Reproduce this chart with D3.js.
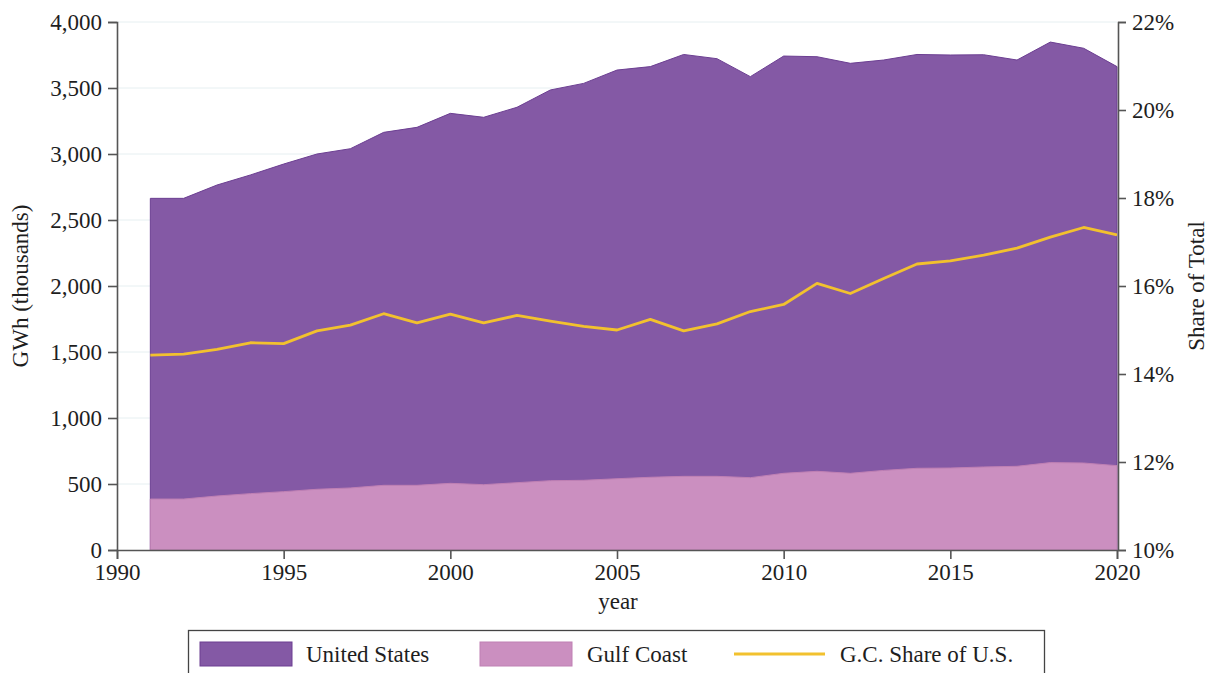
<!DOCTYPE html>
<html>
<head>
<meta charset="utf-8">
<script src="https://cdn.jsdelivr.net/npm/d3@7"></script>
<style>
  body { margin: 0; background: #fff; }
  svg text { font-family: "Liberation Serif", "Times New Roman", serif; fill: #1e1e1e; }
</style>
</head>
<body>
<div id="chart"></div>
<script>
// values
var years = d3.range(1991, 2021);
var usTotal = [2664, 2664, 2765, 2841, 2924, 3000, 3040, 3164, 3202, 3308,
               3278, 3354, 3485, 3535, 3636, 3662, 3754, 3722, 3586, 3742,
               3737, 3687, 3712, 3754, 3750, 3752, 3712, 3848, 3801, 3662];
var gulfCoast = [386, 386, 409, 427, 442, 460, 470, 490, 490, 505,
                 495, 510, 525, 528, 540, 551, 558, 558, 548, 581,
                 596, 581, 603, 619, 621, 629, 634, 662, 659, 639];
var gcShare = [14.43, 14.45, 14.56, 14.71, 14.69, 14.98, 15.11, 15.37, 15.16, 15.36,
               15.16, 15.33, 15.20, 15.08, 15.00, 15.24, 14.98, 15.14, 15.42, 15.58,
               16.06, 15.83, 16.17, 16.50, 16.57, 16.70, 16.86, 17.11, 17.33, 17.16];
var xTicks = [1990, 1995, 2000, 2005, 2010, 2015, 2020];
var leftTicks = [0, 500, 1000, 1500, 2000, 2500, 3000, 3500, 4000];
var rightTicks = [10, 12, 14, 16, 18, 20, 22];
var legendLabels = ["United States", "Gulf Coast", "G.C. Share of U.S."];

var W = 1211, H = 673;
var margin = { top: 22, right: 94, bottom: 123, left: 117 };
var width = W - margin.left - margin.right,
    height = H - margin.top - margin.bottom;

var colUS = "#8459a5", colGC = "#cb8fc0", colLine = "#f2c12e";

var svg = d3.select("#chart").append("svg")
    .attr("width", W)
    .attr("height", H);

var g = svg.append("g")
    .attr("transform", "translate(" + margin.left + "," + margin.top + ")");

// scales
var x = d3.scaleLinear().domain([1990, 2020]).range([0, width]);
var y = d3.scaleLinear().domain([0, 4000]).range([height, 0]);
var y2 = d3.scaleLinear().domain([10, 22]).range([height, 0]);

var rows = years.map(function(yr, i) {
  return { year: yr, us: usTotal[i], gc: gulfCoast[i], share: gcShare[i] };
});

// gridlines
g.selectAll(".grid").data(leftTicks.slice(1)).enter().append("line")
    .attr("x1", 0).attr("x2", width)
    .attr("y1", function(d) { return y(d); })
    .attr("y2", function(d) { return y(d); })
    .attr("stroke", "#e6eff1")
    .attr("stroke-width", 1);

// areas
var areaUS = d3.area()
    .x(function(d) { return x(d.year); })
    .y0(y(0))
    .y1(function(d) { return y(d.us); });
var areaGC = d3.area()
    .x(function(d) { return x(d.year); })
    .y0(y(0))
    .y1(function(d) { return y(d.gc); });

g.append("path").datum(rows)
    .attr("d", areaUS)
    .attr("fill", colUS)
    .attr("stroke", "#6c3f92")
    .attr("stroke-width", 1);

g.append("path").datum(rows)
    .attr("d", areaGC)
    .attr("fill", colGC)
    .attr("stroke", "#bf80b4")
    .attr("stroke-width", 1);

// share line on right axis
var shareLine = d3.line()
    .x(function(d) { return x(d.year); })
    .y(function(d) { return y2(d.share); });

g.append("path").datum(rows)
    .attr("d", shareLine)
    .attr("fill", "none")
    .attr("stroke", colLine)
    .attr("stroke-width", 2.8)
    .attr("stroke-linejoin", "round");

// axes
var fmt = d3.format(",");
var xAxis = g.append("g")
    .attr("transform", "translate(0," + height + ")")
    .call(d3.axisBottom(x).tickValues(xTicks).tickFormat(d3.format("d")).tickSize(9).tickPadding(5));
var yAxis = g.append("g")
    .call(d3.axisLeft(y).tickValues(leftTicks).tickFormat(fmt).tickSize(9).tickPadding(6));
var y2Axis = g.append("g")
    .attr("transform", "translate(" + (width + 1) + ",0)")
    .call(d3.axisRight(y2).tickValues(rightTicks).tickFormat(function(d) { return d + "%"; }).tickSize(8).tickPadding(6));

[xAxis, yAxis, y2Axis].forEach(function(ax) {
  ax.select(".domain").attr("stroke", "#555").attr("stroke-width", 1.6);
  ax.selectAll(".tick line").attr("stroke", "#555").attr("stroke-width", 1.6);
  ax.selectAll(".tick text")
    .style("font-family", "'Liberation Serif', 'Times New Roman', serif")
    .style("font-size", "23px")
    .attr("fill", "#1e1e1e");
});

// axis titles
svg.append("text")
    .attr("x", margin.left + width / 2 + 1)
    .attr("y", 609)
    .attr("text-anchor", "middle")
    .style("font-size", "23px")
    .text("year");

svg.append("text")
    .attr("transform", "translate(28," + (margin.top + 264) + ") rotate(-90)")
    .attr("text-anchor", "middle")
    .style("font-size", "23px")
    .text("GWh (thousands)");

svg.append("text")
    .attr("transform", "translate(1204," + (margin.top + 264) + ") rotate(-90)")
    .attr("text-anchor", "middle")
    .style("font-size", "23px")
    .text("Share of Total");

// legend
var legend = svg.append("g");
legend.append("rect")
    .attr("x", 188.5).attr("y", 630.5)
    .attr("width", 856).attr("height", 60)
    .attr("fill", "#fff")
    .attr("stroke", "#444")
    .attr("stroke-width", 1.3);

var items = [
  { type: "rect", color: colUS, stroke: "#6c3f92", x0: 200, tx: 306 },
  { type: "rect", color: colGC, stroke: "#bf80b4", x0: 480, tx: 587 },
  { type: "line", color: colLine, x0: 734, tx: 840 }
];
items.forEach(function(it, i) {
  if (it.type === "rect") {
    legend.append("rect")
        .attr("x", it.x0).attr("y", 642)
        .attr("width", 92).attr("height", 24)
        .attr("fill", it.color)
        .attr("stroke", it.stroke)
        .attr("stroke-width", 1);
  } else {
    legend.append("line")
        .attr("x1", it.x0).attr("x2", it.x0 + 91)
        .attr("y1", 654).attr("y2", 654)
        .attr("stroke", it.color)
        .attr("stroke-width", 2.8);
  }
  legend.append("text")
      .attr("x", it.tx).attr("y", 662)
      .style("font-size", "23px")
      .text(legendLabels[i]);
});
</script>
</body>
</html>
